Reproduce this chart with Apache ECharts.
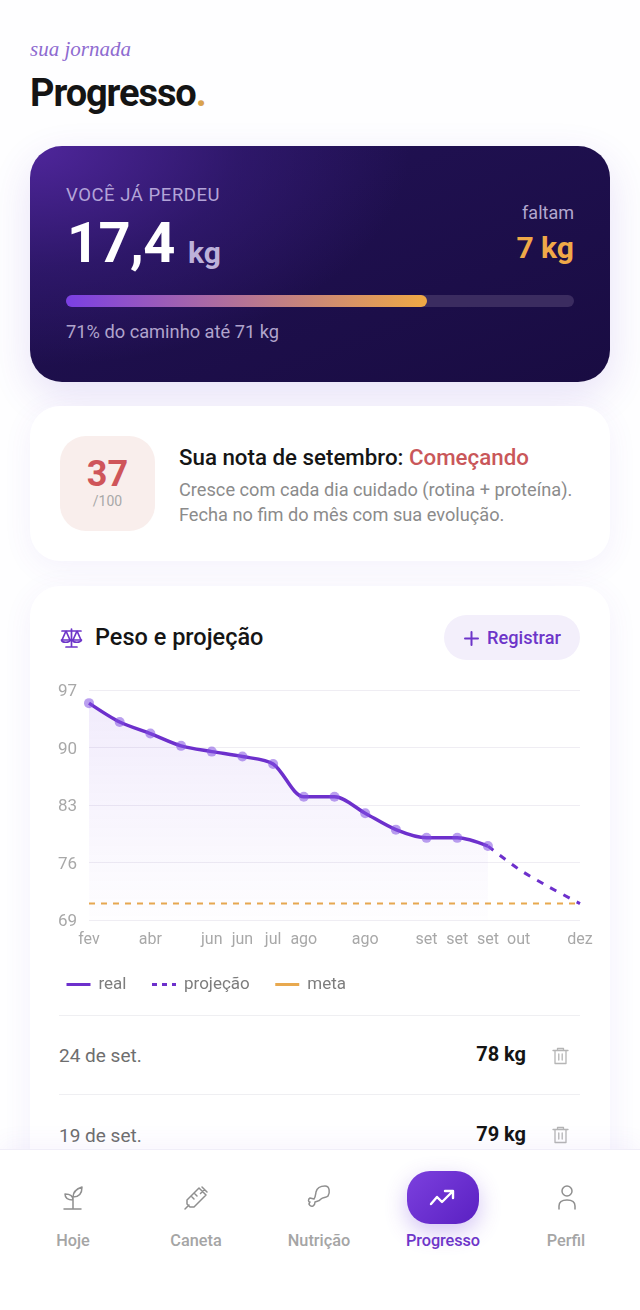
<!DOCTYPE html>
<html>
<head>
<meta charset="utf-8">
<title>Progresso</title>
<script src="https://cdn.jsdelivr.net/npm/echarts@6/dist/echarts.min.js"></script>
<style>
* { box-sizing: border-box; margin: 0; padding: 0; }
html, body { width: 640px; height: 1310px; overflow: hidden; background: #fefeff; font-family: Roboto, sans-serif; }
.abs, .t { position: absolute; }
.t { white-space: nowrap; line-height: 1; }
.card { position: absolute; left: 30px; width: 580px; background: #fff; border-radius: 30px; box-shadow: 0 6px 30px rgba(110, 70, 210, .07); }
#hero { top: 146px; height: 236px; border-radius: 32px; overflow: hidden;
    background: radial-gradient(ellipse 380px 220px at 0 0, #4f269b 0, rgba(60, 30, 130, .5) 55%, rgba(30, 16, 80, 0) 100%), linear-gradient(160deg, #221256, #190c42);
    box-shadow: 0 14px 40px rgba(90, 50, 200, .14); }
#chart { position: absolute; left: 30px; top: 670px; width: 580px; height: 340px; }
#nav { position: absolute; left: 0; top: 1149px; width: 640px; height: 161px; background: #fff; border-top: 1px solid #f0eef8; box-shadow: 0 -8px 20px rgba(110, 70, 210, .05); }
.lbl { font-size: 16.3px; font-weight: 500; color: #a5a5a5; transform: translateX(-50%); }
.sep { position: absolute; left: 59px; width: 521px; height: 1px; background: #efeff2; }
svg { position: absolute; fill: none; stroke-linecap: round; stroke-linejoin: round; }
</style>
</head>
<body>
<div class="t" style="left:30px;top:37px;font:italic 21px 'Liberation Serif',serif;color:#8e6bd0">sua jornada</div>
<div class="t" style="left:30px;top:74px;font-size:38px;font-weight:700;letter-spacing:-1.1px;color:#141414">Progresso<span style="color:#d9a24e">.</span></div>

<div class="card" id="hero"></div>
<div class="t" style="left:66px;top:186px;font-size:18.5px;letter-spacing:.55px;color:#b3a4d8">VOCÊ JÁ PERDEU</div>
<div class="t" style="left:67px;top:215px;font-size:56px;font-weight:700;letter-spacing:-.6px;color:#fff">17,4</div>
<div class="t" style="left:188px;top:238px;font-size:30px;font-weight:700;color:#bdb1d9">kg</div>
<div class="t" style="right:66px;top:204px;font-size:18px;color:#b3a8cf">faltam</div>
<div class="t" style="right:66px;top:233px;font-size:30px;font-weight:700;color:#f0a948">7 kg</div>
<div class="abs" style="left:66px;top:295px;width:508px;height:12px;border-radius:6px;background:#3b2c60"></div>
<div class="abs" style="left:66px;top:295px;width:361px;height:12px;border-radius:6px;background:linear-gradient(90deg,#7b3fe4,#f0a944)"></div>
<div class="t" style="left:66px;top:323px;font-size:18.25px;color:#b0a4cc">71% do caminho até 71 kg</div>

<div class="card" style="top:406px;height:155px"></div>
<div class="abs" style="left:60px;top:436px;width:95px;height:95px;border-radius:26px;background:#f9eeec"></div>
<div class="t" style="left:60px;width:95px;text-align:center;top:456px;font-size:36px;font-weight:700;color:#cf555a">37</div>
<div class="t" style="left:60px;width:95px;text-align:center;top:494px;font-size:14px;color:#a8a8a8">/100</div>
<div class="t" style="left:179px;top:446px;font-size:22.3px;font-weight:500;color:#151515">Sua nota de setembro: <span style="color:#c9575a">Começando</span></div>
<div class="t" style="left:179px;top:481px;font-size:18.2px;color:#8b8b8b">Cresce com cada dia cuidado (rotina + proteína).</div>
<div class="t" style="left:179px;top:506px;font-size:18.2px;color:#8b8b8b">Fecha no fim do mês com sua evolução.</div>

<div class="card" style="top:586px;height:640px"></div>
<svg style="left:60px;top:627px" width="23" height="22" viewBox="0 0 23 22" stroke="#6d35c9" stroke-width="1.7">
    <path d="M11.5 2v17M6 20h11M2 4h19M6 4l-4 9h8zM17 4l-4 9h8z"/>
    <path d="M1.5 13c.5 3 8 3 9 0M12.5 13c.5 3 8 3 9 0"/>
</svg>
<div class="t" style="left:95px;top:626px;font-size:23.5px;font-weight:500;color:#151515">Peso e projeção</div>
<div class="abs" style="left:444px;top:615px;width:136px;height:45px;border-radius:23px;background:#f3effb"></div>
<svg style="left:464px;top:631px" width="15" height="15" viewBox="0 0 15 15" stroke="#6d35c9" stroke-width="2"><path d="M7.5 1v13M1 7.5h13"/></svg>
<div class="t" style="left:487px;top:629px;font-size:18.2px;font-weight:500;color:#6d35c9">Registrar</div>

<div id="chart"></div>

<div class="sep" style="top:1015px"></div>
<div class="t" style="left:59px;top:1046px;font-size:19px;color:#6e6e6e">24 de set.</div>
<div class="t" style="right:114px;top:1044px;font-size:20px;font-weight:700;color:#141414">78 kg</div>
<svg style="left:552px;top:1047px" width="17" height="18" viewBox="0 0 17 18" stroke="#b5b5b5" stroke-width="1.3"><path d="M1 3.5h15M5.5 3.5V1.5h6v2M3 3.5v13h11v-13M6.8 7v6M10.2 7v6"/></svg>
<div class="sep" style="top:1094px"></div>
<div class="t" style="left:59px;top:1126px;font-size:19px;color:#6e6e6e">19 de set.</div>
<div class="t" style="right:114px;top:1124px;font-size:20px;font-weight:700;color:#141414">79 kg</div>
<svg style="left:552px;top:1126px" width="17" height="18" viewBox="0 0 17 18" stroke="#b5b5b5" stroke-width="1.3"><path d="M1 3.5h15M5.5 3.5V1.5h6v2M3 3.5v13h11v-13M6.8 7v6M10.2 7v6"/></svg>

<div id="nav"></div>
<svg style="left:60px;top:1185px" width="26" height="26" viewBox="0 0 26 26" stroke="#8f8f8f" stroke-width="1.5">
    <path d="M13 24V12M4 24h17M13 15c0-4-3-6-8-6 0 4 3 6 8 6zM13 12c0-5 3-8 9-10 0 6-3 10-9 10z"/>
</svg>
<svg style="left:183px;top:1184px" width="27" height="27" viewBox="0 0 27 27" stroke="#8f8f8f" stroke-width="1.5">
    <path d="M2 25l4-4M19 3l5 5M21.5 5.5l-4 4M16 4l7 7L11 23H7l-3-3v-4zM12 10l2 2M9 13l2 2"/>
</svg>
<svg style="left:306px;top:1184px" width="27" height="27" viewBox="0 0 27 27" stroke="#8f8f8f" stroke-width="1.5">
    <path d="M19 2c-4 0-8 2-9 6-.5 3-.5 5-2 7M22 12c2-3 2-10-3-10M22 12c-2 2-5 1-7 3-1 1-2 2-3 2M8 15l-4-1c-2 1-2 4 0 4-2 2 0 5 3 4 2-1 2-3 2-4l3-1"/>
</svg>
<svg style="left:554px;top:1184px" width="26" height="27" viewBox="0 0 26 27" stroke="#8f8f8f" stroke-width="1.5">
    <circle cx="13" cy="7" r="5"/><path d="M5 25v-3c0-4 3-6 8-6s8 2 8 6v3"/>
</svg>
<div class="abs" style="left:407px;top:1171px;width:72px;height:53px;border-radius:23px;background:linear-gradient(135deg,#7c40de,#5a20c2);box-shadow:0 8px 22px rgba(110,60,220,.3)"></div>
<svg style="left:429px;top:1189px" width="27" height="18" viewBox="0 0 27 18" stroke="#fff" stroke-width="2.4">
    <path d="M2 15l6-7 5 5 11-11M16 2h8v7"/>
</svg>
<div class="t lbl" style="left:73px;top:1233px">Hoje</div>
<div class="t lbl" style="left:196px;top:1233px">Caneta</div>
<div class="t lbl" style="left:319px;top:1233px">Nutrição</div>
<div class="t lbl" style="left:443px;top:1233px;color:#6d35c9;letter-spacing:-.1px">Progresso</div>
<div class="t lbl" style="left:566px;top:1233px">Perfil</div>

<script>
var months = ['fev', '', 'abr', '', 'jun', 'jun', 'jul', 'ago', '', 'ago', '', 'set', 'set', 'set', 'out', '', 'dez'];
var real = [95.4, 93.1, 91.7, 90.2, 89.5, 88.9, 88, 84, 84, 82, 80, 79, 79, 78];
var projecao = [null, null, null, null, null, null, null, null, null, null, null, null, null, 78, 75.2, 73, 71];
var meta = [71, 71, 71, 71, 71, 71, 71, 71, 71, 71, 71, 71, 71, 71, 71, 71, 71];

var PURPLE = '#6d30cc';
var ORANGE = '#e8a94f';

var myChart = echarts.init(document.getElementById('chart'));
var labelFont = 'Roboto, sans-serif';

myChart.setOption({
    animation: false,
    grid: { left: 59, right: 30, top: 20, height: 230 },
    legend: {
        left: 30,
        top: 301,
        itemWidth: 24,
        itemHeight: 12,
        itemGap: 24,
        textStyle: { fontFamily: labelFont, fontSize: 17, color: '#7d7d7d', padding: [0, 0, 0, 3] },
        itemStyle: { color: 'transparent', borderWidth: 0 },
        data: [
            { name: 'real', lineStyle: { width: 3 } },
            { name: 'projeção', lineStyle: { width: 3, type: [5, 5] } },
            { name: 'meta', lineStyle: { width: 3, type: 'solid' } }
        ]
    },
    xAxis: {
        type: 'category',
        boundaryGap: false,
        data: months,
        axisLine: { show: false },
        axisTick: { show: false },
        axisLabel: { interval: 0, margin: 12, fontFamily: labelFont, fontSize: 16, color: '#a8a8a8' }
    },
    yAxis: {
        type: 'value',
        min: 69,
        max: 97,
        interval: 7,
        axisLine: { show: false },
        axisTick: { show: false },
        axisLabel: {
            margin: 12,
            formatter: '{v|{value}}',
            rich: { v: { fontFamily: labelFont, fontSize: 17, color: '#a8a8a8', padding: [4, 0, 0, 0] } }
        },
        splitLine: { lineStyle: { color: '#efedf3', width: 1 } }
    },
    series: [
        {
            name: 'real',
            type: 'line',
            data: real,
            smooth: 0.3,
            symbol: 'circle',
            symbolSize: 10,
            itemStyle: { color: 'rgba(130, 80, 225, .55)', borderWidth: 0 },
            lineStyle: { color: PURPLE, width: 3.5 },
            areaStyle: {
                color: new echarts.graphic.LinearGradient(0, 0, 0, 1, [
                    { offset: 0, color: 'rgba(124, 70, 225, .15)' },
                    { offset: 1, color: 'rgba(124, 70, 225, .01)' }
                ])
            },
            z: 3
        },
        {
            name: 'projeção',
            type: 'line',
            data: projecao,
            smooth: 0.3,
            symbol: 'none',
            lineStyle: { color: PURPLE, width: 3, type: [7, 8] },
            z: 2
        },
        {
            name: 'meta',
            type: 'line',
            data: meta,
            symbol: 'none',
            lineStyle: { color: ORANGE, width: 2, type: [6, 6] },
            z: 1
        }
    ]
});
</script>
</body>
</html>
